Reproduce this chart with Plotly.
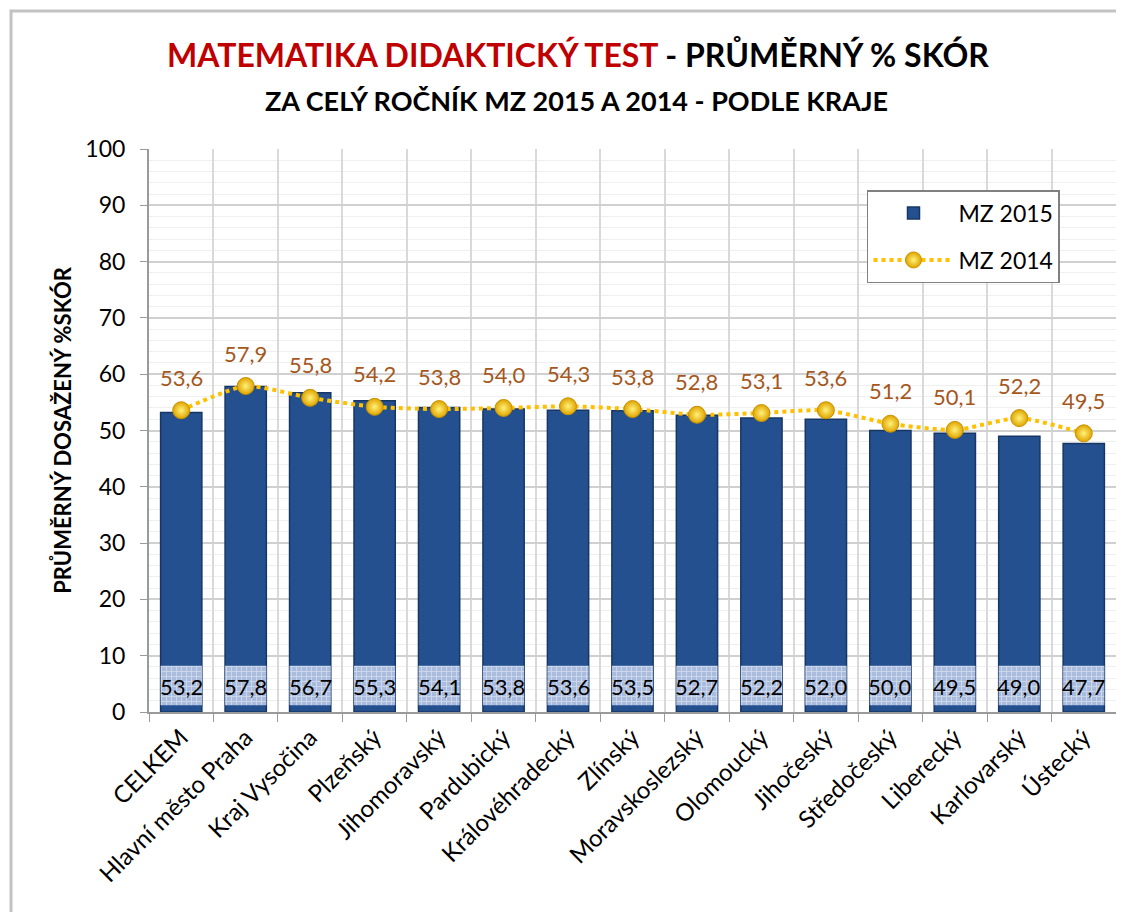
import plotly.graph_objects as go

categories = ["CELKEM", "Hlavní město Praha", "Kraj Vysočina", "Plzeňský", "Jihomoravský",
              "Pardubický", "Královéhradecký", "Zlínský", "Moravskoslezský", "Olomoucký",
              "Jihočeský", "Středočeský", "Liberecký", "Karlovarský", "Ústecký"]
mz2015 = [53.2, 57.8, 56.7, 55.3, 54.1, 53.8, 53.6, 53.5, 52.7, 52.2, 52.0, 50.0, 49.5, 49.0, 47.7]
mz2014 = [53.6, 57.9, 55.8, 54.2, 53.8, 54.0, 54.3, 53.8, 52.8, 53.1, 53.6, 51.2, 50.1, 52.2, 49.5]

FONT = "Lato"

def fmt(v):
    return f"{v:.1f}".replace(".", ",")

fig = go.Figure()

fig.add_trace(go.Bar(
    x=categories, y=mz2015, name="MZ 2015", width=0.64,
    marker=dict(color="#24508f", line=dict(color="#163766", width=1.5)),
    legendgroup="a", hoverinfo="skip",
))

# patterned label boxes near the bar bottoms
fig.add_trace(go.Bar(
    x=categories, y=[7.0] * len(categories), base=[1.2] * len(categories), width=0.64,
    marker=dict(color="#a9bcdd", line=dict(width=0),
                pattern=dict(shape="+", fgcolor="#eef2fa", bgcolor="#a9bcdd", size=5, solidity=0.35)),
    showlegend=False, hoverinfo="skip",
))

fig.add_trace(go.Scatter(
    x=categories, y=mz2014, name="MZ 2014", mode="lines+markers",
    line=dict(color="#ffc000", width=4, dash="dot", shape="spline", smoothing=0.6),
    marker=dict(size=17, color="#e0a400", line=dict(color="#c89200", width=1),
                gradient=dict(type="radial", color="#fff27a")),
    legendgroup="b", hoverinfo="skip",
))

annotations = []
for c, v in zip(categories, mz2014):
    annotations.append(dict(x=c, y=v, xref="x", yref="y", text=fmt(v), showarrow=False,
                            yshift=33, font=dict(family=FONT, size=22, color="#a5571c")))
for c, v in zip(categories, mz2015):
    annotations.append(dict(x=c, y=4.5, xref="x", yref="y", text=fmt(v), showarrow=False,
                            font=dict(family=FONT, size=22, color="black")))

annotations.append(dict(
    xref="paper", yref="paper", x=0.4436, y=1.167, xanchor="center", yanchor="middle", showarrow=False,
    text="<b><span style='color:#c00000'>MATEMATIKA DIDAKTICKÝ TEST</span> - PRŮMĚRNÝ % SKÓR</b>",
    font=dict(family=FONT, size=32, color="black")))
annotations.append(dict(
    xref="paper", yref="paper", x=0.4426, y=1.087, xanchor="center", yanchor="middle", showarrow=False,
    text="<b>ZA CELÝ ROČNÍK MZ 2015 A 2014 - PODLE KRAJE</b>",
    font=dict(family=FONT, size=27, color="black")))

fig.update_layout(
    width=1116, height=904,
    margin=dict(l=141, r=8, t=141, b=200),
    paper_bgcolor="white", plot_bgcolor="white",
    barmode="overlay",
    font=dict(family=FONT, color="black"),
    annotations=annotations,
    legend=dict(x=0.7425, y=0.927, xanchor="left", yanchor="top",
                bordercolor="#808080", borderwidth=1.5, bgcolor="white",
                font=dict(family=FONT, size=23), traceorder="grouped", tracegroupgap=14,
                itemwidth=80),
    shapes=[dict(type="rect", xref="paper", yref="paper", x0=-0.1427, y0=-0.6, x1=1.2, y1=1.245,
                 line=dict(color="#c3c3c3", width=3), layer="below")],
    showlegend=True,
)

fig.update_xaxes(
    type="category", range=[-0.5, len(categories) - 0.5], tickson="boundaries",
    showgrid=True, gridcolor="#d9d9d9", gridwidth=1.5,
    showline=True, linecolor="#9a9a9a", linewidth=2, ticks="outside", ticklen=8, tickcolor="#9a9a9a",
    tickangle=-45, tickfont=dict(family=FONT, size=24, color="black"),
)
fig.update_yaxes(
    range=[0, 100], dtick=10, showgrid=True, gridcolor="#d0d0d0", gridwidth=1.5,
    minor=dict(dtick=2, showgrid=True, gridcolor="#efefef", gridwidth=1),
    showline=True, linecolor="#9a9a9a", linewidth=2, ticks="outside", ticklen=7, tickcolor="#9a9a9a",
    ticklabelstandoff=10,
    tickfont=dict(family=FONT, size=23, color="black"), zeroline=False,
    title=dict(text="<b>PRŮMĚRNÝ DOSAŽENÝ %SKÓR</b>", font=dict(family=FONT, size=22), standoff=8),
)

fig.write_html("out.html", config={"displayModeBar": False})
